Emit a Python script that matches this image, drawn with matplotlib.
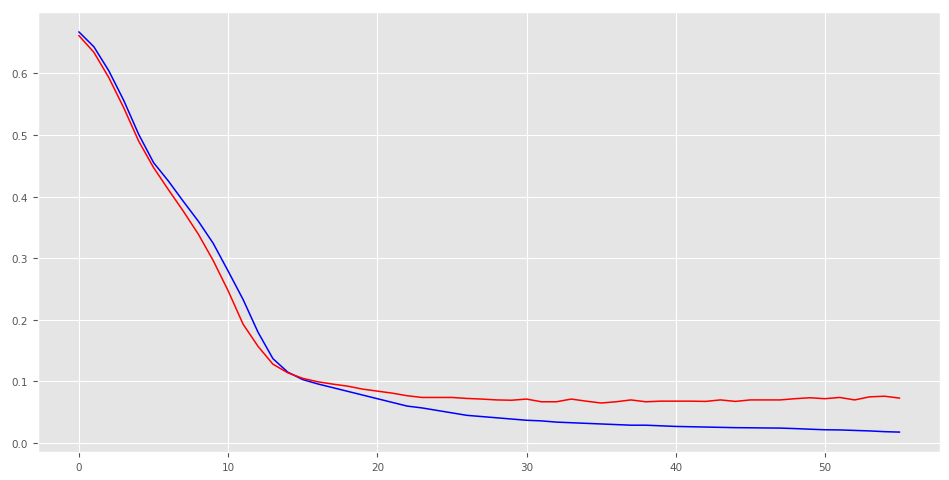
import matplotlib
matplotlib.use('Agg')
import matplotlib.pyplot as plt

plt.style.use('ggplot')

# training / validation loss per epoch
epochs = list(range(56))
train_loss = [0.667, 0.643, 0.604, 0.556, 0.501, 0.455, 0.425, 0.392, 0.360, 0.324,
              0.279, 0.233, 0.180, 0.137, 0.115, 0.103, 0.096, 0.090, 0.084, 0.078,
              0.072, 0.066, 0.060, 0.057, 0.053, 0.049, 0.045, 0.043, 0.041, 0.039,
              0.037, 0.036, 0.034, 0.033, 0.032, 0.031, 0.030, 0.029, 0.029, 0.028,
              0.027, 0.0265, 0.026, 0.0255, 0.025, 0.0248, 0.0245, 0.0243, 0.0235, 0.0225,
              0.0216, 0.0213, 0.0205, 0.0197, 0.0185, 0.0178]
val_loss = [0.661, 0.634, 0.593, 0.544, 0.490, 0.447, 0.411, 0.376, 0.339, 0.296,
            0.247, 0.193, 0.157, 0.128, 0.114, 0.105, 0.0995, 0.0957, 0.0924, 0.0876,
            0.0843, 0.081, 0.0768, 0.074, 0.074, 0.074, 0.0724, 0.0714, 0.070, 0.0695,
            0.0714, 0.067, 0.067, 0.0714, 0.068, 0.065, 0.067, 0.070, 0.067, 0.068,
            0.068, 0.068, 0.0676, 0.070, 0.0676, 0.070, 0.070, 0.070, 0.072, 0.0735,
            0.072, 0.074, 0.070, 0.075, 0.076, 0.073]

fig = plt.figure(figsize=(9.49, 4.81), dpi=100)
ax = fig.add_axes([0.040, 0.058, 0.951, 0.915])

ax.plot(epochs, train_loss, color='blue', linewidth=1.1)
ax.plot(epochs, val_loss, color='red', linewidth=1.1)

ax.tick_params(labelsize=7.5, colors='#555555')
ax.set_xticks([0, 10, 20, 30, 40, 50])
ax.set_yticks([0.0, 0.1, 0.2, 0.3, 0.4, 0.5, 0.6])

fig.savefig('out.png', dpi=100)
